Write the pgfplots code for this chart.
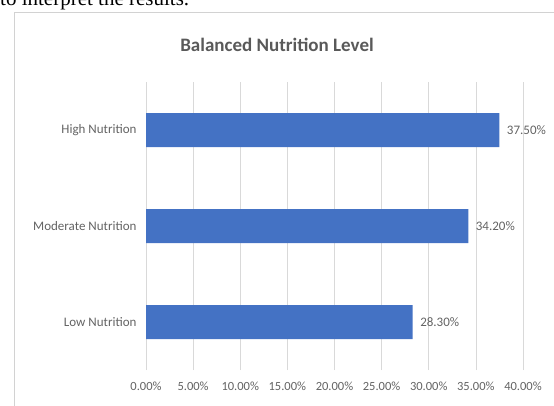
\documentclass[border=0pt]{standalone}
\usepackage{pgfplots}
\pgfplotsset{compat=1.18}
\usepackage{fontspec}
\setmainfont{Carlito}
\newfontfamily\seriffont{Liberation Serif}
\definecolor{barblue}{HTML}{4472C4}
\definecolor{txtgray}{HTML}{636363}
\definecolor{gridgray}{HTML}{D9D9D9}
\begin{document}
\begin{tikzpicture}[x=1pt,y=1pt]
\useasboundingbox (0,0) rectangle (554,405);
\node[anchor=base west,inner sep=0pt,font=\seriffont\fontsize{21}{21}\selectfont] at (0,399) {to interpret the results.};
\draw[gray!35,line width=0.8pt] (14,-5) rectangle (560,393);
\node[font=\fontsize{19}{19}\selectfont\bfseries,text=txtgray!90!black] at (277,360) {Balanced Nutrition Level};
\begin{axis}[
  at={(146pt,35pt)}, anchor=south west,
  scale only axis, width=377pt, height=288pt,
  xmin=0, xmax=40, ymin=-0.5, ymax=2.5,
  xtick={0,5,...,40},
  xticklabel={\pgfmathprintnumber[fixed,fixed zerofill,precision=2]{\tick}\%},
  /pgf/number format/assume math mode=true,
  ytick={0,1,2},
  yticklabels={Low Nutrition,Moderate Nutrition,High Nutrition},
  xmajorgrids, grid style={gridgray,line width=0.6pt},
  axis line style={draw=none},
  major tick length=0pt,
  tick label style={text=txtgray,font=\fontsize{12.5}{13}\selectfont},
  yticklabel style={font=\fontsize{13}{14}\selectfont,xshift=-6pt},
  xticklabel style={yshift=-8pt},
  clip=false,
  nodes near coords={\pgfmathprintnumber[fixed,fixed zerofill,precision=2]{\pgfplotspointmeta}\%},
  nodes near coords style={text=txtgray,font=\fontsize{13}{14}\selectfont,anchor=west,xshift=4pt,/pgf/number format/assume math mode=true},
  point meta=explicit,
]
\addplot[xbar, bar width=34pt, fill=barblue, draw=none]
  coordinates {(28.3,0) [28.3] (34.2,1) [34.2] (37.5,2) [37.5]};
\end{axis}
\end{tikzpicture}
\end{document}
